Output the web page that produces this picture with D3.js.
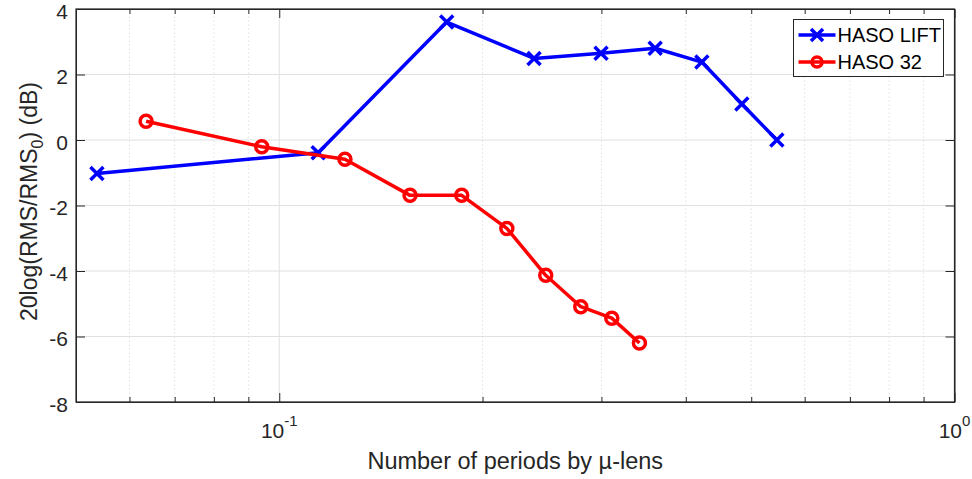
<!DOCTYPE html>
<html>
<head>
<meta charset="utf-8">
<script src="https://cdn.jsdelivr.net/npm/d3@7"></script>
<style>
  body { margin: 0; background: #fff; }
  svg { display: block; font-family: "Liberation Sans", Arial, sans-serif; }
</style>
</head>
<body>
<svg id="chart" width="972" height="479"></svg>
<script>
// data
var liftX = [0.0537, 0.1142, 0.177, 0.2384, 0.2996, 0.3603, 0.4225, 0.4842, 0.5457];
var liftY = [-1.02, -0.39, 3.60, 2.49, 2.65, 2.80, 2.38, 1.10, 0.0];
var h32X = [0.0635, 0.0942, 0.1251, 0.1562, 0.1863, 0.2173, 0.2481, 0.2796, 0.3108, 0.3415];
var h32Y = [0.57, -0.205, -0.59, -1.69, -1.69, -2.70, -4.13, -5.09, -5.44, -6.20];
var seriesNames = ["HASO LIFT", "HASO 32"];
var yTicks = [-8, -6, -4, -2, 0, 2, 4];
var xMajorTicks = [0.1, 1];

var svg = d3.select("#chart"),
    margin = { top: 9, right: 17.5, bottom: 77, left: 76 },
    width = +svg.attr("width"),
    height = +svg.attr("height"),
    x0 = margin.left, x1 = width - margin.right,
    y0 = height - margin.bottom, y1 = margin.top;

var axisCol = "#262626", gridCol = "#e0e0e0";

var x = d3.scaleLog().domain([0.05, 1]).range([x0, x1]);
var y = d3.scaleLinear().domain([-8, 4]).range([y0, y1]);

var allX = x.ticks(); // 0.05 .. 1 in 1-2-3 steps
var minorX = allX.filter(d => xMajorTicks.indexOf(d) < 0 && d > 0.05 && d < 1);

// grid
var grid = svg.append("g");
grid.selectAll(".gm").data(minorX).enter().append("line")
  .attr("x1", d => x(d)).attr("x2", d => x(d))
  .attr("y1", y0).attr("y2", y1)
  .attr("stroke", gridCol).attr("stroke-width", 1).attr("stroke-dasharray", "1.5,2.5");
grid.selectAll(".gx").data(xMajorTicks).enter().append("line")
  .attr("x1", d => x(d)).attr("x2", d => x(d))
  .attr("y1", y0).attr("y2", y1)
  .attr("stroke", gridCol).attr("stroke-width", 1);
grid.selectAll(".gy").data(yTicks).enter().append("line")
  .attr("x1", x0).attr("x2", x1)
  .attr("y1", d => y(d)).attr("y2", d => y(d))
  .attr("stroke", gridCol).attr("stroke-width", 1);

// axes: bottom & left with inward ticks, top & right mirrored
var fmtX = function() { return ""; };
svg.append("g").attr("transform", "translate(0," + y0 + ")")
  .call(d3.axisBottom(x).tickValues(xMajorTicks).tickSizeInner(-9).tickSizeOuter(0).tickFormat(fmtX));
svg.append("g").attr("transform", "translate(0," + y0 + ")")
  .call(d3.axisBottom(x).tickValues(minorX).tickSizeInner(-5).tickSizeOuter(0).tickFormat(fmtX));
svg.append("g").attr("transform", "translate(0," + y1 + ")")
  .call(d3.axisTop(x).tickValues(xMajorTicks).tickSizeInner(-9).tickSizeOuter(0).tickFormat(fmtX));
svg.append("g").attr("transform", "translate(0," + y1 + ")")
  .call(d3.axisTop(x).tickValues(minorX).tickSizeInner(-5).tickSizeOuter(0).tickFormat(fmtX));
svg.append("g").attr("transform", "translate(" + x0 + ",0)")
  .call(d3.axisLeft(y).tickValues(yTicks).tickSizeInner(-9).tickSizeOuter(0).tickFormat(""));
svg.append("g").attr("transform", "translate(" + x1 + ",0)")
  .call(d3.axisRight(y).tickValues(yTicks).tickSizeInner(-9).tickSizeOuter(0).tickFormat(""));
svg.selectAll(".domain, .tick line").attr("stroke", axisCol).attr("stroke-width", 1);

// box
svg.append("rect").attr("x", x0).attr("y", y1).attr("width", x1 - x0).attr("height", y0 - y1)
  .attr("fill", "none").attr("stroke", axisCol).attr("stroke-width", 1.2);

// tick labels
svg.append("g").selectAll("text").data(yTicks).enter().append("text")
  .attr("x", x0 - 8).attr("y", d => y(d) + 2).attr("dy", "0.36em")
  .attr("text-anchor", "end").attr("font-size", 21).attr("fill", axisCol)
  .text(d => d);

var xl = svg.append("g").selectAll("text").data(xMajorTicks).enter().append("text")
  .attr("x", d => x(d)).attr("y", y0 + 36)
  .attr("text-anchor", "middle").attr("font-size", 21).attr("fill", axisCol);
xl.append("tspan").text("10");
xl.append("tspan").attr("dy", -12).attr("font-size", 15).text(d => Math.round(Math.log10(d)));

// axis labels
svg.append("text").attr("x", (x0 + x1) / 2).attr("y", 469)
  .attr("text-anchor", "middle").attr("font-size", 23.5).attr("fill", axisCol)
  .text("Number of periods by \u00b5-lens");

var yl = svg.append("text")
  .attr("transform", "translate(37," + ((y0 + y1) / 2 - 4) + ") rotate(-90)")
  .attr("text-anchor", "middle").attr("font-size", 23).attr("fill", axisCol);
yl.append("tspan").text("20log(RMS/RMS");
yl.append("tspan").attr("dy", 6).attr("font-size", 16).text("0");
yl.append("tspan").attr("dy", -6).text(") (dB)");

// series
var liftData = liftX.map((d, i) => [d, liftY[i]]);
var h32Data = h32X.map((d, i) => [d, h32Y[i]]);
var line = d3.line().x(d => x(d[0])).y(d => y(d[1]));
var colors = ["#0000ff", "#ff0000"];

function xMark(sel, s) {
  sel.append("path").attr("d", "M" + (-s) + "," + (-s) + "L" + s + "," + s + "M" + (-s) + "," + s + "L" + s + "," + (-s))
    .attr("stroke", colors[0]).attr("stroke-width", 3.5).attr("fill", "none");
}
function oMark(sel, r) {
  sel.append("circle").attr("r", r).attr("stroke", colors[1]).attr("stroke-width", 3.5).attr("fill", "none");
}

svg.append("path").datum(liftData).attr("d", line)
  .attr("fill", "none").attr("stroke", colors[0]).attr("stroke-width", 3.5).attr("stroke-linejoin", "round");
svg.append("g").selectAll("g").data(liftData).enter().append("g")
  .attr("transform", d => "translate(" + x(d[0]) + "," + y(d[1]) + ")")
  .call(xMark, 6.5);

svg.append("path").datum(h32Data).attr("d", line)
  .attr("fill", "none").attr("stroke", colors[1]).attr("stroke-width", 3.5).attr("stroke-linejoin", "round");
svg.append("g").selectAll("g").data(h32Data).enter().append("g")
  .attr("transform", d => "translate(" + x(d[0]) + "," + y(d[1]) + ")")
  .call(oMark, 6);

// legend
var lg = svg.append("g").attr("transform", "translate(793.5,19.5)");
lg.append("rect").attr("width", 150).attr("height", 57)
  .attr("fill", "#fff").attr("stroke", axisCol).attr("stroke-width", 1);
var item = lg.selectAll(".item").data(seriesNames).enter().append("g")
  .attr("transform", (d, i) => "translate(0," + (15.5 + i * 27) + ")");
item.append("line").attr("x1", 5).attr("x2", 42).attr("y1", 0).attr("y2", 0)
  .attr("stroke", (d, i) => colors[i]).attr("stroke-width", 3.5);
item.each(function(d, i) {
  var m = d3.select(this).append("g").attr("transform", "translate(23.5,0)");
  if (i == 0) xMark(m, 6); else oMark(m, 5);
});
item.append("text").attr("x", 44).attr("y", 0).attr("dy", "0.36em")
  .attr("font-size", 20).attr("fill", "#000").text(d => d);
</script>
</body>
</html>
